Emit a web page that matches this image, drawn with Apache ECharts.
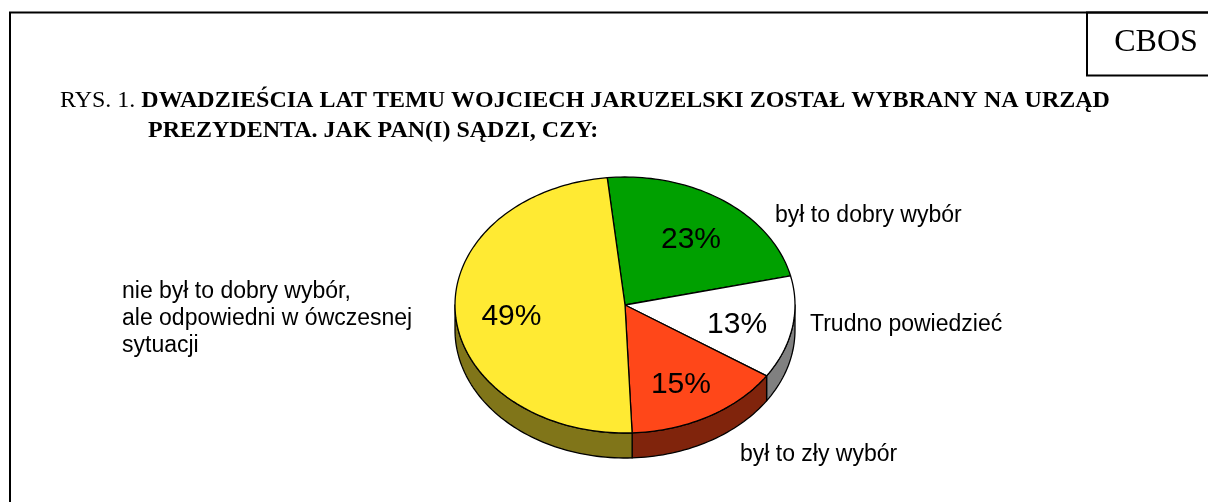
<!DOCTYPE html>
<html>
<head>
<meta charset="utf-8">
<title>CBOS - Jaruzelski</title>
<script src="https://cdn.jsdelivr.net/npm/echarts@6/dist/echarts.min.js"></script>
<style>
  html, body { margin: 0; padding: 0; background: #fff; }
  #chart { width: 1208px; height: 502px; }
</style>
</head>
<body>
<div id="chart"></div>
<script>
/* dane */
const names = [
  'był to dobry wybór',
  'Trudno powiedzieć',
  'był to zły wybór',
  'nie był to dobry wybór,\nale odpowiedni w ówczesnej\nsytuacji'
];
const values = [23, 13, 15, 49];
const colors = ['#00A000', '#FFFFFF', '#FF4719', '#FFEA33'];
const sideColors = ['#005000', '#808080', '#80240C', '#807519'];

/* geometria wykresu */
const CX = 625, CY = 305, RX = 170, RY = 128, DEPTH = 25, START = 96;
const labelAnchor = [[775, 216], [810, 325], [740, 455], [122, 319]];

const total = values.reduce((a, b) => a + b, 0);
const starts = [];
let acc = 0;
values.forEach(v => { starts.push(START - 360 * acc / total); acc += v; });

function pt(t, dy) {
  const r = t * Math.PI / 180;
  return [CX + RX * Math.cos(r), CY - RY * Math.sin(r) + (dy || 0)];
}
function arc(t0, t1, dy) {
  const n = Math.max(2, Math.ceil(Math.abs(t1 - t0) / 1.5));
  const pts = [];
  for (let i = 0; i <= n; i++) pts.push(pt(t0 + (t1 - t0) * i / n, dy));
  return pts;
}

/* boki (tylko przednia połowa) */
function renderSide(params, api) {
  const i = params.dataIndex;
  const a0 = starts[i];
  const a1 = a0 - 360 * api.value(0) / total;
  const children = [];
  for (let k = -1; k <= 1; k++) {
    const lo = Math.max(a1, -180 + 360 * k);
    const hi = Math.min(a0, 360 * k);
    if (hi - lo <= 0.01) continue;
    const pts = arc(hi, lo, 0).concat(arc(lo, hi, DEPTH));
    children.push({
      type: 'polygon',
      shape: { points: pts },
      style: { fill: sideColors[i], stroke: '#000', lineWidth: 1.3, lineJoin: 'round' }
    });
  }
  return { type: 'group', children: children };
}

/* wierzch + etykiety */
function renderTop(params, api) {
  const i = params.dataIndex;
  const v = api.value(0);
  const a0 = starts[i];
  const a1 = a0 - 360 * v / total;
  const mid = (a0 + a1) / 2 * Math.PI / 180;
  const pts = [[CX, CY]].concat(arc(a0, a1, 0));
  return {
    type: 'group',
    children: [
      {
        type: 'polygon',
        shape: { points: pts },
        style: { fill: colors[i], stroke: '#000', lineWidth: 1.3, lineJoin: 'round' }
      },
      {
        type: 'text',
        x: CX + RX * 0.67 * Math.cos(mid),
        y: CY - RY * 0.67 * Math.sin(mid) + 5,
        style: {
          text: v + '%', fill: '#000', align: 'center', verticalAlign: 'middle',
          fontFamily: 'Liberation Sans, Arial', fontSize: 30
        }
      },
      {
        type: 'text',
        x: labelAnchor[i][0],
        y: labelAnchor[i][1],
        style: {
          text: names[i], fill: '#000', align: 'left', verticalAlign: 'middle',
          fontFamily: 'Liberation Sans, Arial', fontSize: 23, lineHeight: 27
        }
      }
    ]
  };
}

const chart = echarts.init(document.getElementById('chart'));
chart.setOption({
  animation: false,
  backgroundColor: '#fff',
  title: [
    {
      text: '{n|RYS. 1. }{b|DWADZIEŚCIA LAT TEMU WOJCIECH JARUZELSKI ZOSTAŁ WYBRANY NA URZĄD}',
      left: 60, top: 87, padding: 0,
      textStyle: {
        rich: {
          n: { fontFamily: 'Liberation Serif, Times New Roman', fontSize: 24, fontWeight: 'normal', color: '#000', lineHeight: 28 },
          b: { fontFamily: 'Liberation Serif, Times New Roman', fontSize: 24, fontWeight: 'bold', color: '#000', lineHeight: 28 }
        }
      }
    },
    {
      text: 'PREZYDENTA. JAK PAN(I) SĄDZI, CZY:',
      left: 148, top: 117, padding: 0,
      textStyle: { fontFamily: 'Liberation Serif, Times New Roman', fontSize: 24, fontWeight: 'bold', color: '#000', lineHeight: 28 }
    }
  ],
  graphic: [
    {
      type: 'rect', shape: { x: 10, y: 12.5, width: 1400, height: 700 },
      style: { fill: 'none', stroke: '#000', lineWidth: 2 }
    },
    {
      type: 'rect', shape: { x: 1087, y: 12.5, width: 300, height: 63 },
      style: { fill: 'none', stroke: '#000', lineWidth: 2 }
    },
    {
      type: 'text', x: 1156, y: 43,
      style: { text: 'CBOS', fill: '#000', align: 'center', verticalAlign: 'middle', fontFamily: 'Liberation Serif, Times New Roman', fontSize: 32 }
    }
  ],
  series: [
    { type: 'custom', coordinateSystem: 'none', z: 1, renderItem: renderSide, data: values, silent: true },
    { type: 'custom', coordinateSystem: 'none', z: 2, renderItem: renderTop, data: values, silent: true }
  ]
});
</script>
</body>
</html>
